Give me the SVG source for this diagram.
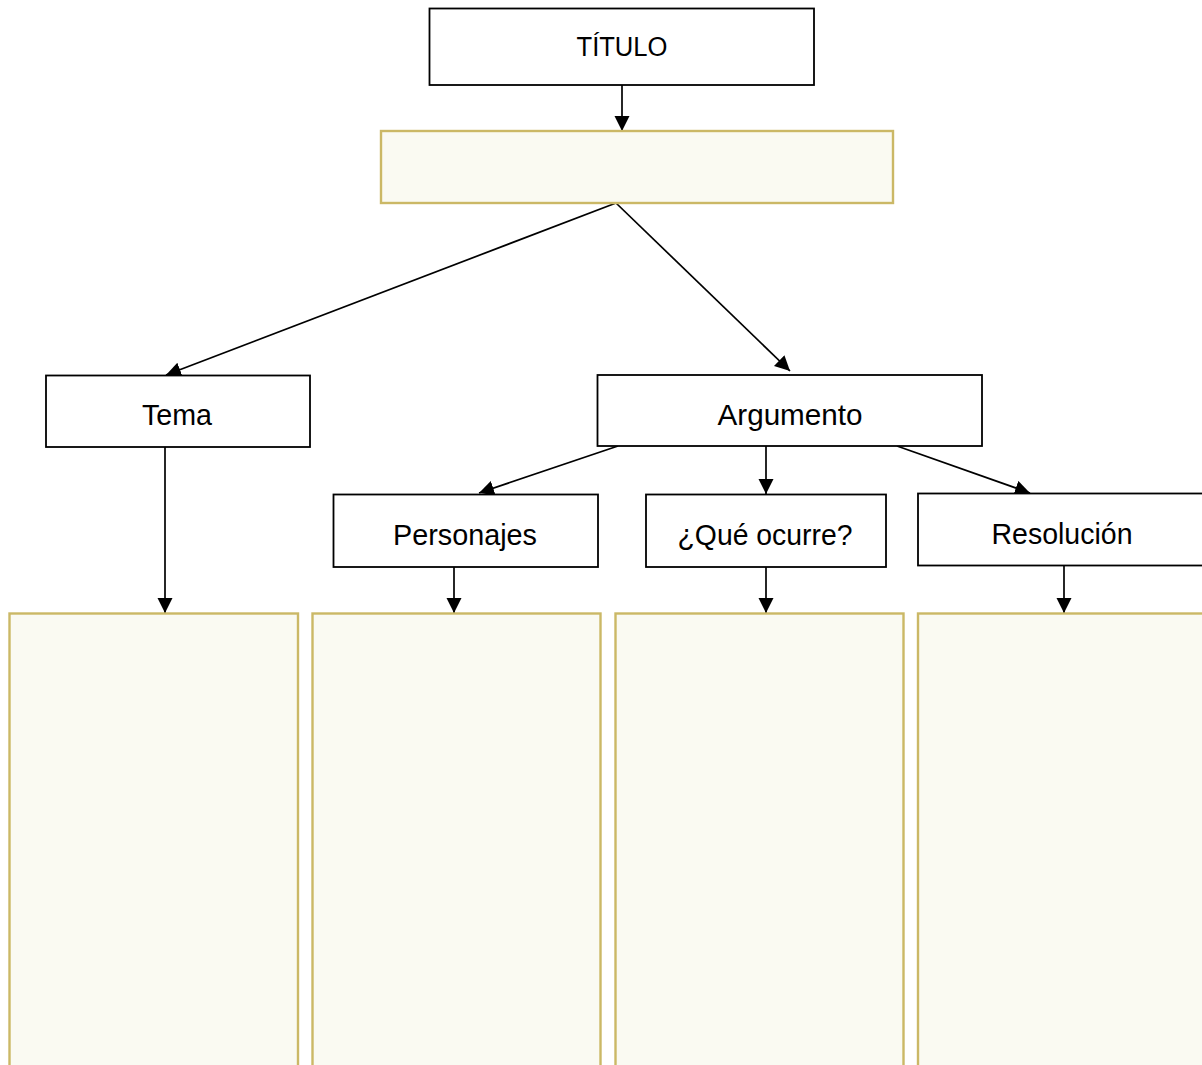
<svg xmlns="http://www.w3.org/2000/svg" width="1202" height="1065" viewBox="0 0 1202 1065">
<style>
.box{fill:#ffffff;stroke:#000000;stroke-width:1.8}
.ybox{fill:#fafaf2;stroke:#cbb866;stroke-width:2.4}
.lbl{font-family:"Liberation Sans",Arial,sans-serif;font-size:30px;fill:#000000;text-anchor:middle}
.t1{font-family:"Liberation Sans",Arial,sans-serif;font-size:27px;fill:#000000;text-anchor:middle}
.con{stroke:#000000;stroke-width:1.7;fill:none;marker-end:url(#ah)}
</style>
<defs>
<marker id="ah" markerUnits="userSpaceOnUse" markerWidth="16" markerHeight="16" refX="15" refY="7.5" orient="auto">
<path d="M0,0 L15,7.5 L0,15 z" fill="#000000"/>
</marker>
</defs>
<rect width="1202" height="1065" fill="#ffffff"/>
<g id="connectors">
<line class="con" x1="622" y1="85" x2="622" y2="131"/>
<line class="con" x1="616" y1="203" x2="166" y2="375"/>
<line class="con" x1="616" y1="203" x2="790" y2="371"/>
<line class="con" x1="165" y1="447" x2="165" y2="613"/>
<line class="con" x1="618" y1="446" x2="479" y2="493"/>
<line class="con" x1="766" y1="446" x2="766" y2="494"/>
<line class="con" x1="897" y1="446" x2="1030" y2="493"/>
<line class="con" x1="454" y1="567" x2="454" y2="613"/>
<line class="con" x1="766" y1="567" x2="766" y2="613"/>
<line class="con" x1="1064" y1="565" x2="1064" y2="613"/>
</g>
<g id="titulo">
<rect class="box" x="429.5" y="8.5" width="384.5" height="76.5"/>
<text class="t1" x="622" y="56" textLength="91" lengthAdjust="spacingAndGlyphs">TÍTULO</text>
</g>
<g id="subtitulo">
<rect class="ybox" x="381" y="131" width="512" height="72"/>
</g>
<g id="tema">
<rect class="box" x="46" y="375.5" width="264" height="71.5"/>
<text class="lbl" x="177" y="425" textLength="70" lengthAdjust="spacingAndGlyphs">Tema</text>
</g>
<g id="argumento">
<rect class="box" x="597.5" y="375" width="384.5" height="71"/>
<text class="lbl" x="790" y="425" textLength="145" lengthAdjust="spacingAndGlyphs">Argumento</text>
</g>
<g id="personajes">
<rect class="box" x="333.5" y="494.5" width="264.5" height="72.5"/>
<text class="lbl" x="465" y="545" textLength="144" lengthAdjust="spacingAndGlyphs">Personajes</text>
</g>
<g id="que-ocurre">
<rect class="box" x="646" y="494.5" width="240" height="72.5"/>
<text class="lbl" x="765" y="545" textLength="175" lengthAdjust="spacingAndGlyphs">¿Qué ocurre?</text>
</g>
<g id="resolucion">
<rect class="box" x="918" y="493.5" width="290" height="72"/>
<text class="lbl" x="1062" y="544" textLength="141" lengthAdjust="spacingAndGlyphs">Resolución</text>
</g>
<g id="caja-tema">
<rect class="ybox" x="9.5" y="613.5" width="288.5" height="460"/>
</g>
<g id="caja-personajes">
<rect class="ybox" x="312.5" y="613.5" width="288" height="460"/>
</g>
<g id="caja-que-ocurre">
<rect class="ybox" x="615.5" y="613.5" width="288" height="460"/>
</g>
<g id="caja-resolucion">
<rect class="ybox" x="918" y="613.5" width="300" height="460"/>
</g>
</svg>
